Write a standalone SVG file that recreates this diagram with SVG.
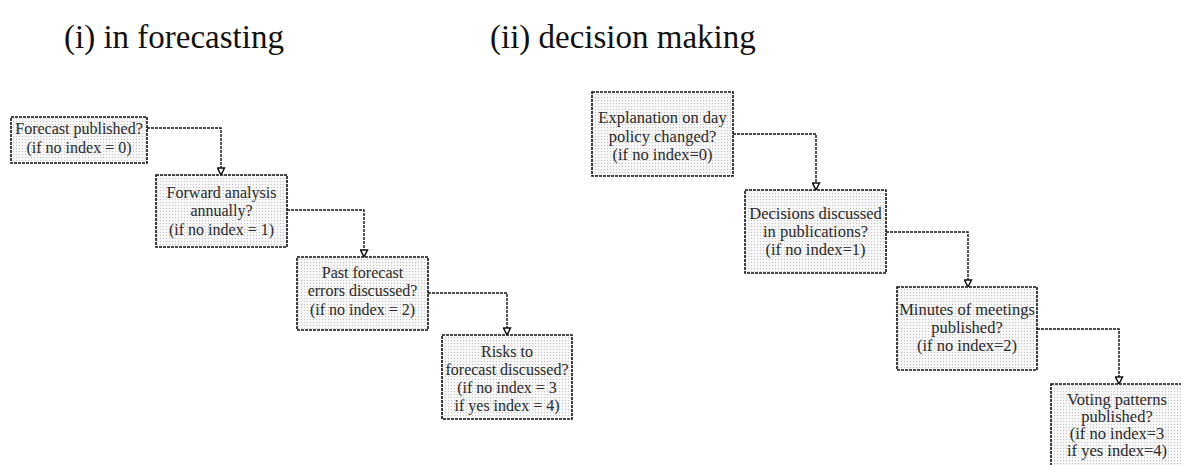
<svg xmlns="http://www.w3.org/2000/svg" width="1181" height="465" viewBox="0 0 1181 465">
<style>
.title{font-family:"Liberation Serif",serif;font-size:33px;fill:#111}
.box{fill:url(#dots);stroke:#111;stroke-width:1.6;stroke-dasharray:3 1}
.lbl{font-family:"Liberation Serif",serif;font-size:16px;fill:#2a2a2a;text-anchor:middle}
.lbr{font-family:"Liberation Serif",serif;font-size:16.5px;fill:#2a2a2a;text-anchor:middle}
.conn{fill:none;stroke:#111;stroke-width:1.4;stroke-dasharray:3 1}
</style>
<defs>
<pattern id="dots" width="3" height="3" patternUnits="userSpaceOnUse">
<rect width="3" height="3" fill="#f6f6f6"/>
<rect x="1" y="1" width="1" height="1" fill="#c2c2c2"/>
</pattern>
<marker id="arr" markerWidth="9" markerHeight="9" refX="8" refY="4.5" orient="auto" markerUnits="userSpaceOnUse" viewBox="0 0 9 9">
<path d="M1,1 L8,4.5 L1,8 Z" fill="#fff" stroke="#111" stroke-width="1.5"/>
</marker>
</defs>
<rect width="1181" height="465" fill="#fff"/>
<text class="title" x="64" y="48">(i) in forecasting</text>
<text class="title" x="490" y="48">(ii) decision making</text>

<g id="connectors">
<path class="conn" d="M147,128 H221 V175" marker-end="url(#arr)"/>
<path class="conn" d="M287,210 H364 V257" marker-end="url(#arr)"/>
<path class="conn" d="M428,293 H507 V335" marker-end="url(#arr)"/>
<path class="conn" d="M733,134 H816 V190" marker-end="url(#arr)"/>
<path class="conn" d="M886,232 H968 V287" marker-end="url(#arr)"/>
<path class="conn" d="M1037,329 H1119 V384" marker-end="url(#arr)"/>
</g>

<g id="n1"><rect class="box" x="11" y="117" width="136" height="46"/>
<text class="lbl"><tspan x="79" y="134">Forecast published?</tspan><tspan x="79" y="153">(if no index = 0)</tspan></text></g>
<g id="n2"><rect class="box" x="156" y="175" width="131" height="72"/>
<text class="lbl"><tspan x="221.5" y="198">Forward analysis</tspan><tspan x="221.5" y="216">annually?</tspan><tspan x="221.5" y="235">(if no index = 1)</tspan></text></g>
<g id="n3"><rect class="box" x="297" y="257" width="131" height="73"/>
<text class="lbl"><tspan x="362.5" y="278">Past forecast</tspan><tspan x="362.5" y="296">errors discussed?</tspan><tspan x="362.5" y="315">(if no index = 2)</tspan></text></g>
<g id="n4"><rect class="box" x="442" y="335" width="130" height="84"/>
<text class="lbl"><tspan x="507" y="357">Risks to</tspan><tspan x="507" y="375">forecast discussed?</tspan><tspan x="507" y="393">(if no index = 3</tspan><tspan x="507" y="411">if yes index = 4)</tspan></text></g>

<g id="m1"><rect class="box" x="592" y="92" width="141" height="84"/>
<text class="lbr"><tspan x="662.5" y="123">Explanation on day</tspan><tspan x="662.5" y="142">policy changed?</tspan><tspan x="662.5" y="160">(if no index=0)</tspan></text></g>
<g id="m2"><rect class="box" x="745" y="190" width="141" height="83"/>
<text class="lbr"><tspan x="815.5" y="219">Decisions discussed</tspan><tspan x="815.5" y="237">in publications?</tspan><tspan x="815.5" y="255">(if no index=1)</tspan></text></g>
<g id="m3"><rect class="box" x="897" y="287" width="140" height="83"/>
<text class="lbr"><tspan x="967" y="315">Minutes of meetings</tspan><tspan x="967" y="333">published?</tspan><tspan x="967" y="351">(if no index=2)</tspan></text></g>
<g id="m4"><rect class="box" x="1051" y="384" width="137" height="84"/>
<text class="lbr"><tspan x="1117" y="405">Voting patterns</tspan><tspan x="1117" y="422">published?</tspan><tspan x="1117" y="439">(if no index=3</tspan><tspan x="1117" y="456">if yes index=4)</tspan></text></g>
</svg>
